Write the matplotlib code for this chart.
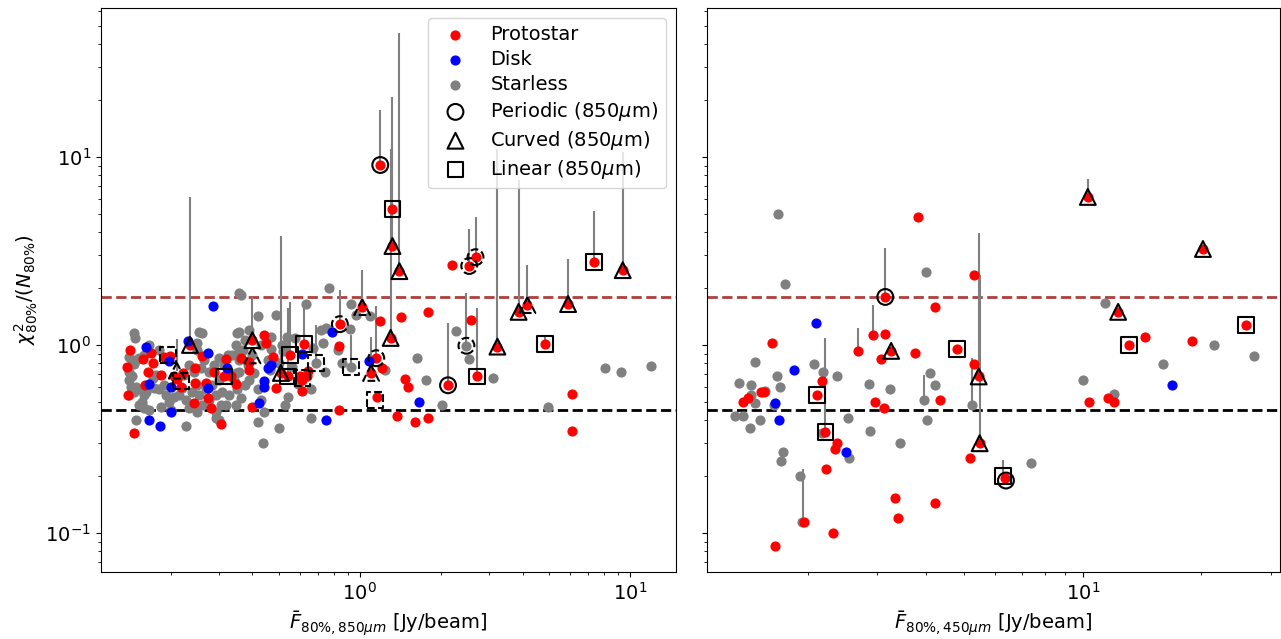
import matplotlib
matplotlib.use("Agg")
import matplotlib.pyplot as plt
import numpy as np

# ---------------- 850 micron panel ----------------
proto850_x = [1.19, 1.32, 1.32, 1.40, 1.30, 3.23, 3.87, 9.4, 7.36, 5.9, 4.17, 4.83, 2.72, 2.12,
              2.54, 2.68, 1.02, 0.843, 1.15, 1.10, 1.16, 0.62, 0.55, 0.54, 0.51, 0.40, 0.235, 0.315,
              2.2, 2.58, 1.79, 1.42, 1.19, 0.84, 1.21, 1.47, 1.51, 1.37, 1.60, 1.79, 6.1, 6.1, 0.84,
              0.141, 0.157, 0.168, 0.171, 0.189, 0.198, 0.164, 0.184, 0.160, 0.139, 0.146, 0.205,
              0.211, 0.222, 0.218, 0.245, 0.245, 0.261, 0.27, 0.275, 0.243, 0.282, 0.306, 0.289,
              0.32, 0.334, 0.349, 0.364, 0.39, 0.39, 0.44, 0.45, 0.475, 0.49, 0.40, 0.60, 0.61,
              0.61, 0.635, 0.645, 0.137]
proto850_y = [9.06, 5.3, 3.36, 2.47, 1.09, 0.98, 1.50, 2.5, 2.76, 1.65, 1.63, 1.01, 0.68, 0.61,
              2.63, 2.93, 1.59, 1.29, 0.85, 0.71, 0.53, 1.01, 0.88, 0.68, 0.71, 1.06, 1.0, 0.68,
              2.66, 1.36, 1.50, 1.41, 1.34, 0.99, 0.75, 0.66, 0.60, 0.42, 0.39, 0.41, 0.55, 0.35, 0.45,
              0.94, 0.84, 0.91, 0.80, 0.86, 0.87, 0.72, 0.69, 0.61, 0.54, 0.34, 0.68,
              0.66, 0.71, 0.60, 0.75, 0.63, 0.87, 0.63, 0.52, 0.49, 0.46, 0.38, 0.72,
              0.84, 0.68, 0.62, 0.85, 0.81, 0.74, 1.13, 1.03, 0.86, 0.59, 0.47, 0.68, 0.65,
              0.57, 0.68, 0.73, 0.76]

disk850_x = [0.287, 0.161, 0.197, 0.232, 0.275, 0.166, 0.20, 0.275, 0.323, 0.20, 0.166, 0.182,
             0.79, 0.61, 0.455, 0.47, 0.443, 0.443, 0.425, 0.75, 1.08, 1.66]
disk850_y = [1.61, 0.98, 0.82, 1.05, 0.91, 0.62, 0.60, 0.59, 0.75, 0.44, 0.40, 0.37,
             1.17, 0.90, 0.75, 0.78, 0.64, 0.60, 0.49, 0.40, 0.82, 0.50]

starless850_x = [0.146, 0.147, 0.140, 0.143, 0.148, 0.152, 0.140, 0.143, 0.140, 0.142, 0.148, 0.152,
                 0.146, 0.159, 0.156, 0.161, 0.166, 0.173, 0.171, 0.176, 0.181, 0.148, 0.166, 0.152,
                 0.140, 0.146, 0.159, 0.166, 0.181, 0.189,
                 0.192, 0.197, 0.205, 0.200, 0.214, 0.220, 0.228, 0.233, 0.240, 0.249, 0.254, 0.261,
                 0.270, 0.277, 0.284, 0.294, 0.302, 0.310, 0.320, 0.329, 0.224, 0.233, 0.243, 0.258,
                 0.265, 0.277, 0.288, 0.302, 0.315, 0.325, 0.250, 0.249, 0.254, 0.261, 0.294, 0.306,
                 0.228, 0.437, 0.50, 0.42, 0.184, 0.159, 0.25, 0.294, 0.349, 0.302,
                 0.343, 0.352, 0.358, 0.374, 0.364, 0.390, 0.384, 0.407, 0.418, 0.432, 0.443, 0.455,
                 0.463, 0.337, 0.349, 0.368, 0.374, 0.352, 0.390, 0.358, 0.364, 0.418, 0.358, 0.432,
                 0.47, 0.49, 0.517, 0.535, 0.574, 0.63, 0.358, 0.358, 0.349, 0.54, 0.66, 0.66, 0.73,
                 0.74, 0.40, 0.47, 0.52, 0.50, 0.56, 0.59, 0.53,
                 0.77, 0.93, 0.97, 1.09, 0.92, 0.75, 0.93, 0.69, 1.63, 1.76, 2.02, 2.27, 2.54, 2.48,
                 3.10, 4.95, 8.07, 9.3, 12.0, 0.86, 0.83, 0.72, 0.67, 1.24]
starless850_y = [1.16, 1.09, 0.86, 0.83, 0.83, 0.85, 0.72, 0.68, 0.65, 0.60, 0.60, 0.58,
                 0.56, 0.54, 0.50, 0.56, 0.61, 0.59, 0.67, 0.69, 0.58, 0.40, 0.45, 0.48,
                 0.54, 0.79, 0.88, 1.00, 0.94, 0.61,
                 0.54, 0.50, 0.53, 0.45, 0.54, 0.59, 0.51, 0.46, 0.56, 0.61, 0.54, 0.48,
                 0.58, 0.51, 0.61, 0.54, 0.65, 0.56, 0.48, 0.54, 0.69, 0.78, 0.72, 0.75,
                 0.83, 0.72, 0.78, 0.85, 0.78, 0.88, 0.94, 1.03, 1.17, 1.16, 0.41, 0.48,
                 0.37, 0.30, 0.36, 0.39, 0.47, 0.46, 0.44, 0.44, 0.48, 0.40,
                 0.65, 0.58, 0.72, 0.61, 0.52, 0.65, 0.78, 0.71, 0.58, 0.51, 0.44, 0.83,
                 0.74, 0.88, 1.00, 0.94, 1.06, 1.16, 1.20, 1.89, 1.85, 1.43, 1.17, 1.0,
                 1.10, 1.44, 1.0, 1.10, 1.09, 1.65, 0.94, 0.83, 0.71, 0.53, 0.58, 0.41, 1.02,
                 0.72, 0.88, 0.95, 0.93, 0.80, 0.76, 0.62, 0.48,
                 2.01, 1.65, 1.44, 1.43, 1.22, 1.23, 0.76, 0.80, 0.85, 0.65, 0.48, 1.19, 0.84, 0.99,
                 0.67, 0.47, 0.75, 0.72, 0.77, 0.80, 0.94, 1.20, 0.96, 0.74]

# upper ends of the uncertainty range
err850_x = [1.19, 1.32, 1.32, 1.40, 1.30, 3.23, 3.87, 9.4, 7.36, 5.9, 4.17, 4.83, 2.72, 2.12,
            2.48, 2.54, 2.68, 1.02, 0.843, 1.15, 1.10, 0.93, 0.69, 0.62, 0.55, 0.54, 0.51,
            0.40, 0.235, 0.21]
err850_lo = [9.06, 5.3, 3.36, 2.47, 1.09, 0.98, 1.50, 2.5, 2.76, 1.65, 1.63, 1.01, 0.68, 0.61,
             0.99, 2.63, 2.93, 1.59, 1.29, 0.85, 0.71, 0.76, 0.80, 1.01, 0.88, 0.68, 0.71,
             1.06, 1.0, 0.73]
err850_hi = [17.8, 20.9, 11.3, 45.6, 11.0, 11.0, 7.5, 10.6, 5.17, 2.87, 2.66, 1.1, 1.57, 1.31,
             1.89, 4.14, 4.8, 2.51, 1.96, 1.61, 1.10, 1.13, 1.28, 1.59, 1.69, 1.57, 3.8,
             1.8, 6.1, 1.07]

periodic850_x = [1.19, 2.12]
periodic850_y = [9.06, 0.61]
curved850_x = [0.235, 0.40, 0.51, 1.30, 1.32, 1.40, 3.23, 3.87, 5.9, 9.4]
curved850_y = [1.0, 1.06, 0.71, 1.09, 3.36, 2.47, 0.98, 1.50, 1.65, 2.5]
linear850_x = [0.315, 0.54, 0.55, 0.62, 1.32, 2.72, 4.83, 7.36]
linear850_y = [0.68, 0.68, 0.88, 1.01, 5.3, 0.68, 1.01, 2.76]

# tentative classifications (dashed outlines)
periodic850_t_x = [0.843, 1.15, 2.54, 2.68, 2.48]
periodic850_t_y = [1.29, 0.85, 2.63, 2.93, 0.99]
curved850_t_x = [0.21, 0.40, 1.02, 1.10, 4.17]
curved850_t_y = [0.73, 0.88, 1.59, 0.71, 1.63]
linear850_t_x = [0.195, 0.218, 0.69, 0.93, 1.14, 0.61]
linear850_t_y = [0.88, 0.64, 0.80, 0.76, 0.51, 0.67]

# ---------------- 450 micron panel ----------------
proto450_x = [1.62, 1.37, 1.41, 1.52, 1.55, 1.65, 2.17, 2.11, 2.22, 2.38, 2.35, 2.23, 2.32, 2.69,
              2.94, 3.15, 3.07, 2.96, 3.12, 3.26, 3.15, 3.34, 3.39, 3.75, 3.81, 4.21, 4.33, 4.21,
              4.80, 5.29, 5.29, 5.44, 5.47, 5.18, 6.35, 10.3, 20.2, 12.3, 26.0, 13.1, 14.4, 18.9,
              10.4, 11.6, 12.0, 1.96]
proto450_y = [1.02, 0.50, 0.52, 0.56, 0.56, 0.085, 0.64, 0.54, 0.345, 0.30, 0.28, 0.22, 0.10, 0.93,
              1.13, 1.14, 0.84, 0.50, 0.46, 0.93, 1.80, 0.154, 0.12, 0.91, 4.79, 1.59, 0.51, 0.144,
              0.95, 2.36, 0.79, 0.68, 0.30, 0.25, 0.195, 6.13, 3.24, 1.50, 1.28, 1.0, 1.10, 1.05,
              0.50, 0.52, 0.50, 0.115]

disk450_x = [2.10, 1.85, 1.65, 1.69, 2.50, 16.9]
disk450_y = [1.31, 0.74, 0.49, 0.40, 0.27, 0.61]

starless450_x = [1.68, 1.75, 1.47, 1.34, 1.44, 1.44, 1.47, 1.31, 1.37, 1.43, 1.51, 1.56, 1.67, 1.70,
                 1.64, 1.73, 1.71, 1.91, 1.93, 2.07, 2.19, 2.38, 2.17, 2.53, 2.55, 2.87, 2.88, 3.24,
                 3.43, 4.0, 4.09, 4.21, 3.94, 4.03, 5.22, 11.4, 21.6, 27.3, 16.0, 10.0, 12.0, 7.38]
starless450_y = [4.97, 2.11, 0.81, 0.63, 0.61, 0.54, 0.49, 0.42, 0.42, 0.36, 0.40, 0.57, 0.68, 0.60,
                 0.48, 0.27, 0.24, 0.20, 0.115, 0.79, 0.72, 0.68, 0.34, 0.41, 0.25, 0.62, 0.35, 0.58,
                 0.30, 2.44, 0.71, 0.61, 0.51, 0.40, 0.48, 1.67, 1.0, 0.87, 0.79, 0.65, 0.55, 0.236]

err450_x = [3.15, 5.44, 5.47, 10.3, 2.22, 2.69, 2.94, 3.94, 5.22, 1.95, 6.26]
err450_lo = [1.80, 0.68, 0.30, 6.13, 0.345, 0.93, 1.13, 0.51, 0.48, 0.115, 0.20]
err450_hi = [3.28, 3.94, 2.36, 7.6, 1.09, 1.23, 1.63, 0.69, 0.85, 0.22, 0.245]

periodic450_x = [3.15, 6.38]
periodic450_y = [1.80, 0.19]
curved450_x = [3.26, 5.44, 5.47, 10.3, 12.3, 20.2]
curved450_y = [0.93, 0.68, 0.30, 6.13, 1.50, 3.24]
linear450_x = [2.11, 2.22, 4.80, 6.26, 13.1, 26.0]
linear450_y = [0.54, 0.345, 0.95, 0.20, 1.0, 1.28]

chi_hi = 1.8
chi_lo = 0.45

plt.rcParams['font.size'] = 14
plt.rcParams['xtick.labelsize'] = 14
plt.rcParams['ytick.labelsize'] = 14

DOT = 40
OPEN = 130


def draw_panel(ax, px, py, dx, dy, sx, sy, ex, elo, ehi, per, cur, lin, tentative=None, legend=False):
    ax.vlines(ex, elo, ehi, color='grey', lw=1.5, zorder=1)
    ax.scatter(px, py, s=DOT, c='red', label='Protostar', zorder=3)
    ax.scatter(dx, dy, s=DOT, c='blue', label='Disk', zorder=3)
    ax.scatter(sx, sy, s=DOT, c='grey', label='Starless', zorder=2)
    kw = dict(s=OPEN, facecolors='none', edgecolors='k', linewidths=1.5, zorder=4)
    ax.scatter(*per, marker='o', label=r'Periodic (850$\mu$m)', **kw)
    ax.scatter(*cur, marker='^', label=r'Curved (850$\mu$m)', **kw)
    ax.scatter(*lin, marker='s', label=r'Linear (850$\mu$m)', **kw)
    if tentative is not None:
        for (tx, ty), m in zip(tentative, ['o', '^', 's']):
            ax.scatter(tx, ty, marker=m, linestyles='--', **kw)
    ax.axhline(chi_hi, color='brown', ls='--', lw=2, alpha=0.9, zorder=0)
    ax.axhline(chi_lo, color='k', ls='--', lw=2, zorder=0)
    ax.set_xscale('log')
    ax.set_yscale('log')
    if legend:
        ax.legend(loc='upper right', labelspacing=0.3)


fig = plt.figure(figsize=(12.81, 6.39), dpi=100)
ax1 = fig.add_axes([0.0788, 0.1049, 0.4489, 0.8826])
ax2 = fig.add_axes([0.5519, 0.1049, 0.4473, 0.8826], sharey=ax1)

draw_panel(ax1, proto850_x, proto850_y, disk850_x, disk850_y, starless850_x, starless850_y,
           err850_x, err850_lo, err850_hi,
           (periodic850_x, periodic850_y), (curved850_x, curved850_y), (linear850_x, linear850_y),
           tentative=[(periodic850_t_x, periodic850_t_y), (curved850_t_x, curved850_t_y),
                      (linear850_t_x, linear850_t_y)],
           legend=True)
draw_panel(ax2, proto450_x, proto450_y, disk450_x, disk450_y, starless450_x, starless450_y,
           err450_x, err450_lo, err450_hi,
           (periodic450_x, periodic450_y), (curved450_x, curved450_y), (linear450_x, linear450_y))

ax1.set_xlim(0.110, 14.8)
ax2.set_xlim(1.11, 31.7)
ax1.set_ylim(0.062, 62)
ax2.tick_params(labelleft=False)

ax1.set_ylabel(r'$\chi^2_{80\%}/(N_{80\%})$')
ax1.set_xlabel(r'$\bar{F}_{80\%,850\mu m}$ [Jy/beam]')
ax2.set_xlabel(r'$\bar{F}_{80\%,450\mu m}$ [Jy/beam]')

fig.savefig('out.png', dpi=100)
